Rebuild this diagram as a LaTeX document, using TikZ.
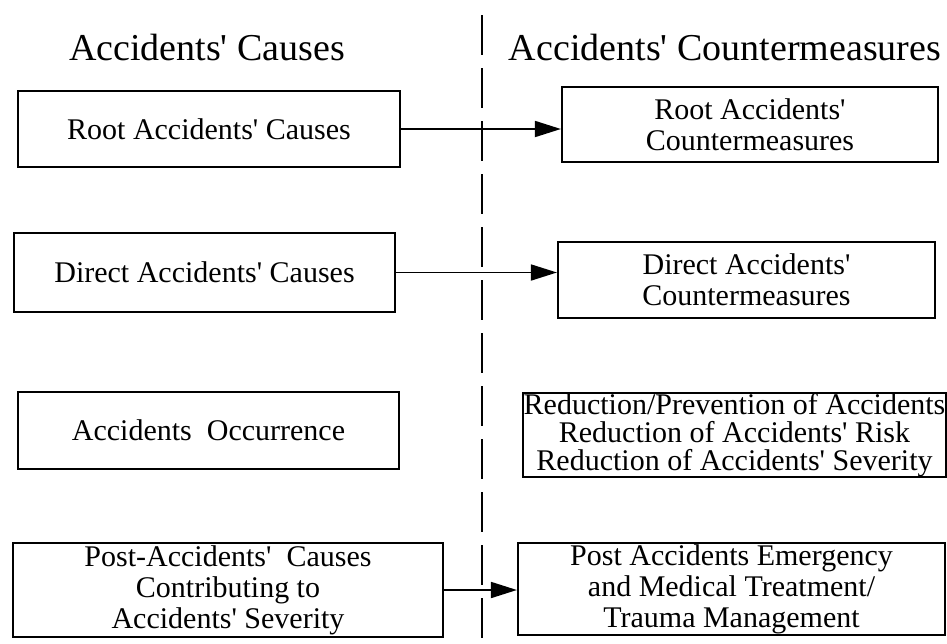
\documentclass[tikz,border=0pt]{standalone}
\usepackage{fontspec}
\setmainfont{Liberation Serif}[Ligatures=TeXOff]
\usetikzlibrary{arrows.meta, positioning}
\tikzset{
  every picture/.style={x=1pt, y=-1pt, line width=1.2pt},
  box/.style={draw, line width=2.2pt, align=center, inner sep=0pt, font=\fontsize{30}{31}\selectfont},
  arrow/.style={-{Triangle[length=26pt, width=16pt]}, line width=1.8pt},
  title/.style={font=\fontsize{38}{40}\selectfont, anchor=base},
  divider/.style={dash pattern=on 40pt off 13pt, line width=2.6pt},
}
\begin{document}
\begin{tikzpicture}
  \useasboundingbox (0,0) rectangle (947,643);
  % column heads and the dashed divider
  \node[title] (causesT) at (207,60) {Accidents' Causes};
  \node[title] (cmT) at (725,60) {Accidents' Countermeasures};
  \coordinate (divtop) at (482,15);
  \coordinate (divbot) at (482,643);
  \draw[divider] (divtop) -- (divbot);
  % causes
  \node[box, minimum width=382pt, minimum height=76pt] (root) at (209,129) {Root Accidents' Causes};
  \node[box, minimum width=381pt, minimum height=79pt] (direct) at (204.5,272.5) {Direct Accidents' Causes};
  \node[box, minimum width=381pt, minimum height=77pt] (occur) at (208.5,430.5) {Accidents\ \ Occurrence};
  \node[box, minimum width=430pt, minimum height=94pt] (post) at (228,590) {Post-Accidents'\ \ Causes\\ Contributing to\\ Accidents' Severity};
  % countermeasures
  \node[box, minimum width=376pt, minimum height=75pt] (rootcm) at (750,124.5) {Root Accidents'\\ Countermeasures};
  \node[box, minimum width=377pt, minimum height=76pt] (directcm) at (746.5,280) {Direct Accidents'\\ Countermeasures};
  \node[box, minimum width=423pt, minimum height=84pt, font=\fontsize{30}{28}\selectfont] (reduce) at (734.5,435) {Reduction/Prevention of Accidents\\ Reduction of Accidents' Risk\\ Reduction of Accidents' Severity};
  \node[box, minimum width=427pt, minimum height=92pt] (postcm) at (731.5,589) {Post Accidents Emergency\\ and Medical Treatment/\\ Trauma Management};
  \draw[arrow] (root.east) -- (root.east -| rootcm.west);
  \draw[arrow] (direct.east) -- (direct.east -| directcm.west);
  \draw[arrow] (post.east) -- (post.east -| postcm.west);
\end{tikzpicture}
\end{document}
